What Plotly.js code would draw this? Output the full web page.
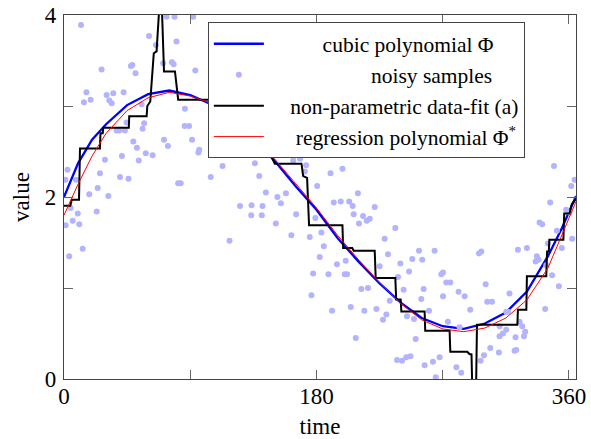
<!DOCTYPE html>
<html>
<head>
<meta charset="utf-8">
<script src="https://cdn.plot.ly/plotly-3.0.1.min.js"></script>
<style>html,body{margin:0;padding:0;background:#fff;}#chart{width:591px;height:439px;}</style>
</head>
<body>
<div id="chart"></div>
<script>
// cubic polynomial Phi
const cubicX = [0,10,20,30,45,60,75,90,105,120,135,150,165,180,195,210,225,240,255,270,285,300,315,330,345,355,365];
const cubicY = [2.00,2.37,2.63,2.80,3.01,3.13,3.17,3.12,3.02,2.86,2.65,2.40,2.12,1.86,1.55,1.29,1.05,0.84,0.67,0.58,0.55,0.61,0.73,0.96,1.35,1.66,2.01];

// regression polynomial Phi*
const regX = [0,10,20,30,45,60,75,90,105,120,135,150,165,180,195,210,225,240,255,270,285,300,315,330,345,355,365];
const regY = [1.80,2.14,2.45,2.70,2.95,3.09,3.15,3.11,3.03,2.88,2.67,2.42,2.15,1.88,1.58,1.31,1.06,0.83,0.65,0.55,0.52,0.56,0.67,0.87,1.22,1.58,1.95];

// non-parametric data-fit (a)
const fitX = [0,4.5,5.5,10.7,11.4,25.6,26,27.6,28,46.2,46.5,58.9,59.4,61.5,64.0,66.0,68.8,69.3,71.3,79.1,81.4,110,110.5,148,150.3,169.3,170.5,172.5,173.3,174.7,198.5,199,205.5,206.5,221.5,222.2,236.2,236.8,240,240.5,257.1,257.5,274.9,275.4,287.5,289,290.5,291.5,293.5,294.4,323.2,323.6,329.6,330,343.8,344.4,345.6,346,356,356.6,360.4,362,365];
const fitY = [1.905,1.905,1.97,1.97,2.534,2.534,2.70,2.70,2.76,2.76,2.886,2.886,3.00,3.05,3.58,3.60,4.30,4.30,3.38,3.38,3.07,3.07,2.44,2.44,2.366,2.366,2.23,2.21,2.21,1.69,1.69,1.44,1.44,1.41,1.41,1.11,1.11,0.873,0.873,0.743,0.743,0.53,0.53,0.30,0.30,0.275,0.27,-0.4,-0.4,0.597,0.597,0.76,0.76,1.13,1.13,1.40,1.40,1.53,1.53,1.82,1.82,1.92,1.98];

// noisy samples
const sampleX = [1.0,1.2,2.5,3.7,4.7,6.2,8.5,9.8,10.9,12.1,13.3,14.2,16.0,18.0,19.0,23.3,24.0,25.6,26.8,29.2,30.4,31.6,32.3,34.0,35.1,37.5,39.4,39.9,41.3,42.5,43.4,44.6,46.0,47.7,48.7,49.4,51.0,52.0,53.3,55.3,56.0,57.1,58.3,60.6,63.2,65.5,70.7,71.3,73.1,74.1,76.9,78.2,78.8,80.2,81.4,83.2,86.0,86.2,89.2,91.3,92.1,93.6,95.8,96.4,104.6,113.0,118.0,125.5,133.5,133.7,136.1,139.2,141.0,141.5,143.9,151.0,152.1,154.6,158.2,162.1,163.4,165.5,168.3,171.7,172.6,175.2,176.4,177.6,179.2,180.5,182.3,183.5,185.2,188.5,190.0,191.1,192.3,194.6,197.3,198.5,200.1,200.8,201.8,203.3,204.4,205.8,206.5,208.0,209.5,210.3,212.0,213.2,214.1,215.8,216.7,218.0,221.5,222.7,225.0,227.4,228.6,229.8,231.0,232.2,236.2,237.4,238.1,239.8,241.0,242.1,244.0,244.5,246.0,247.0,248.3,249.5,250.7,253.1,254.7,255.4,256.4,257.1,260.2,263.0,264.2,265.0,267.8,269.0,270.2,270.2,272.5,273.7,275.4,279.7,281.3,282.0,283.2,285.6,289.6,295.8,297.0,297.5,299.4,300.6,301.7,303.9,305.1,310.0,310.5,310.5,312.9,315.3,315.3,316.5,317.6,321.2,321.9,322.4,323.6,324.8,326.7,327.9,328.8,330.0,336.2,337.1,338.3,339.0,340.9,343.0,343.8,345.0,346.6,348.0,349.3,351.4,352.8,354.9,358.0,360.4,361.6,362.3,364.0];
const sampleY = [2.19,1.69,2.30,1.35,1.88,1.74,2.19,1.82,1.70,3.89,1.43,3.04,3.15,2.03,3.07,1.84,2.10,2.26,3.40,2.41,3.12,2.01,3.06,3.03,3.14,2.73,2.73,2.22,2.45,3.15,2.73,2.82,2.20,3.44,3.45,2.61,3.36,2.54,2.40,3.02,2.75,2.81,2.48,3.77,2.46,3.67,3.47,2.63,3.98,2.56,3.48,3.46,3.98,3.71,2.15,2.15,2.78,2.97,2.78,2.63,3.98,3.39,2.49,2.52,2.22,2.34,1.52,1.90,1.80,1.91,2.37,2.23,1.80,1.90,2.05,1.71,2.00,1.93,2.04,1.58,2.40,1.81,2.42,2.28,2.35,1.56,0.92,1.16,1.77,2.12,1.34,1.61,1.46,1.15,2.26,0.75,1.94,1.26,1.95,2.31,1.15,1.30,1.15,1.95,0.79,1.90,1.81,0.45,2.04,1.71,0.99,1.79,0.75,1.74,1.00,1.76,1.89,0.77,1.24,0.65,1.54,0.71,1.37,0.86,1.66,0.21,1.12,1.27,0.20,0.98,0.24,0.69,1.18,0.25,1.32,0.66,0.44,1.41,0.88,1.31,0.99,0.15,0.75,0.19,1.41,0.02,0.24,1.15,0.91,1.17,1.06,0.63,1.06,0.13,0.96,0.57,0.07,0.91,0.76,1.38,0.20,1.40,0.26,1.04,0.85,0.34,0.85,0.29,0.47,0.58,0.50,0.54,0.74,0.74,0.94,0.31,0.46,0.32,1.42,0.63,0.58,0.47,0.52,1.44,1.29,1.35,1.31,1.72,1.70,0.77,1.25,1.49,1.94,1.14,2.34,1.63,1.02,1.44,1.86,1.83,2.12,1.54,2.19];

// axis ticks (labelled major ticks, unlabelled minor ticks in between)
const xTicks = [0,180,360];
const xTickText = ['0','180','360'];
const xMinorStep = 90;
const yTicks = [0,2,4];
const yTickText = ['0','2','4'];
const yMinorStep = 1;

const NB = '\u00a0';
const pad = n => NB.repeat(n);

const FONT = 'Liberation Serif, "DejaVu Serif", serif';

const traces = [
  {x: cubicX, y: cubicY, mode: 'lines', name: pad(10) + 'cubic polynomial Φ',
   line: {color: '#0000ff', width: 2.3}},
  {x: sampleX, y: sampleY, mode: 'markers', name: pad(19) + 'noisy samples',
   marker: {color: 'rgb(179,179,255)', size: 6}},
  {x: fitX, y: fitY, mode: 'lines', name: pad(4) + 'non-parametric data-fit (a)',
   line: {color: '#000000', width: 2}},
  {x: regX, y: regY, mode: 'lines', name: pad(5) + 'regression polynomial Φ<sup>*</sup>',
   line: {color: '#ff0000', width: 1}}
];

const minorCommon = {ticks: 'inside', ticklen: 9, tickwidth: 1, tickcolor: '#666', showgrid: false};

const axisCommon = {
  ticks: 'inside', ticklen: 9, tickwidth: 1, tickcolor: '#666',
  mirror: 'ticks', showline: true, linecolor: '#444', linewidth: 1.2,
  showgrid: false, zeroline: false, automargin: false,
  tickfont: {family: FONT, size: 23, color: '#000'}
};

const layout = {
  width: 591, height: 439,
  margin: {l: 64, r: 15, t: 15, b: 60},
  paper_bgcolor: '#fff', plot_bgcolor: '#fff',
  font: {family: FONT, size: 23, color: '#000'},
  showlegend: true,
  legend: {x: 0.281, y: 0.98, xanchor: 'left', yanchor: 'top',
           bgcolor: '#fff', bordercolor: '#444', borderwidth: 1,
           font: {family: FONT, size: 21.5, color: '#000'},
           itemwidth: 50, tracegroupgap: 0},
  xaxis: Object.assign({}, axisCommon, {
    range: [0, 365], tickmode: 'array', tickvals: xTicks, ticktext: xTickText,
    minor: Object.assign({}, minorCommon, {tick0: 0, dtick: xMinorStep}),
    ticklabelstandoff: -4,
    title: {text: 'time', font: {family: FONT, size: 23}, standoff: 10}
  }),
  yaxis: Object.assign({}, axisCommon, {
    range: [0, 4], tickmode: 'array', tickvals: yTicks, ticktext: yTickText,
    minor: Object.assign({}, minorCommon, {tick0: 0, dtick: yMinorStep}),
    ticklabelstandoff: 2,
    title: {text: 'value', font: {family: FONT, size: 23}, standoff: 8}
  })
};

Plotly.newPlot('chart', traces, layout, {displayModeBar: false, staticPlot: true});
</script>
</body>
</html>
